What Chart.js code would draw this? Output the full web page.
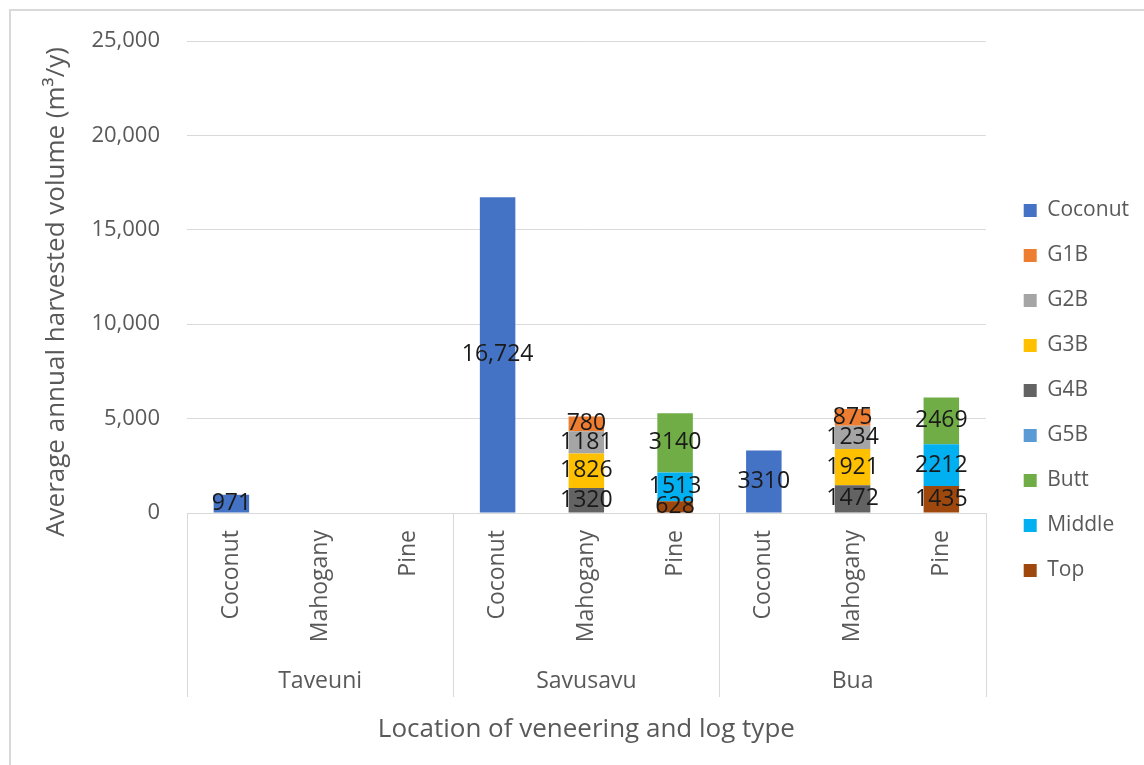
<!DOCTYPE html>
<html>
<head>
<meta charset="utf-8">
<script src="https://cdn.jsdelivr.net/npm/chart.js@4"></script>
<style>
  html, body { margin: 0; padding: 0; background: #fff; overflow: hidden; }
  #wrap { width: 1144px; height: 765px; }
</style>
</head>
<body>
<div id="wrap"><canvas id="volumeChart" width="1144" height="765"></canvas></div>
<script>
// locations and log types (two-level x axis)
const groups = ['Taveuni', 'Savusavu', 'Bua'];
const logTypes = ['Coconut', 'Mahogany', 'Pine'];

// harvested volume (m3/y) per series, one entry per location/log type
const coconut = [971, null, null, 16724, null, null, 3310, null, null];
const g1b     = [null, null, null, null, 780, null, null, 875, null];
const g2b     = [null, null, null, null, 1181, null, null, 1234, null];
const g3b     = [null, null, null, null, 1826, null, null, 1921, null];
const g4b     = [null, null, null, null, 1320, null, null, 1472, null];
const g5b     = [null, null, null, null, null, null, null, null, null];
const butt    = [null, null, null, null, null, 3140, null, null, 2469];
const middle  = [null, null, null, null, null, 1513, null, null, 2212];
const topLog  = [null, null, null, null, null, 628, null, null, 1435];

const yTicks = [0, 5000, 10000, 15000, 20000, 25000];

const labels = [];
groups.forEach(() => logTypes.forEach(t => labels.push(t)));

const FONT = "'Open Sans', sans-serif";
const GREY = '#595959';
const LINE = '#d9d9d9';

Chart.defaults.font.family = FONT;
Chart.defaults.color = GREY;

// stacked bottom to top
const series = [
  { label: 'Top',     data: topLog,  color: '#9e480e' },
  { label: 'Middle',  data: middle,  color: '#00b0f0' },
  { label: 'Butt',    data: butt,    color: '#70ad47' },
  { label: 'G5B',     data: g5b,     color: '#5b9bd5' },
  { label: 'G4B',     data: g4b,     color: '#636363' },
  { label: 'G3B',     data: g3b,     color: '#ffc000' },
  { label: 'G2B',     data: g2b,     color: '#a5a5a5' },
  { label: 'G1B',     data: g1b,     color: '#ed7d31' },
  { label: 'Coconut', data: coconut, color: '#4472c4' }
];

const fmt = v => v >= 10000 ? v.toLocaleString('en-US') : String(v);

// outer frame of the chart
const frame = {
  id: 'frame',
  beforeDraw(chart) {
    const ctx = chart.ctx;
    ctx.save();
    ctx.fillStyle = '#fff';
    ctx.fillRect(0, 0, chart.width, chart.height);
    ctx.strokeStyle = LINE;
    ctx.lineWidth = 2;
    ctx.beginPath();
    ctx.moveTo(chart.width, 10);
    ctx.lineTo(10, 10);
    ctx.lineTo(10, chart.height);
    ctx.stroke();
    ctx.restore();
  }
};

// value labels centred in each bar segment
const valueLabels = {
  id: 'valueLabels',
  afterDatasetsDraw(chart) {
    const ctx = chart.ctx;
    ctx.save();
    ctx.font = '23px ' + FONT;
    ctx.fillStyle = '#1a1a1a';
    ctx.textAlign = 'center';
    ctx.textBaseline = 'middle';
    chart.data.datasets.forEach((ds, i) => {
      const meta = chart.getDatasetMeta(i);
      meta.data.forEach((bar, j) => {
        const v = ds.data[j];
        if (v == null) return;
        ctx.fillText(fmt(v), bar.x, (bar.y + bar.base) / 2);
      });
    });
    ctx.restore();
  }
};

// location row under the rotated log-type labels, plus the value axis title
const groupAxis = {
  id: 'groupAxis',
  afterDraw(chart) {
    const { ctx, chartArea } = chart;
    const x = chart.scales.x;
    const n = logTypes.length;
    const step = x.getPixelForValue(1) - x.getPixelForValue(0);
    ctx.save();
    ctx.strokeStyle = LINE;
    ctx.lineWidth = 1;
    ctx.fillStyle = GREY;
    ctx.font = '23px ' + FONT;
    ctx.textAlign = 'center';
    ctx.textBaseline = 'middle';
    groups.forEach((g, i) => {
      const left = x.getPixelForValue(i * n) - step / 2;
      const right = x.getPixelForValue(i * n + n - 1) + step / 2;
      ctx.beginPath();
      [left, right].forEach(px => {
        const p = Math.round(px) + 0.5;
        ctx.moveTo(p, chartArea.bottom);
        ctx.lineTo(p, 697);
      });
      ctx.stroke();
      ctx.fillText(g, (left + right) / 2, 681);
    });

    ctx.font = '26px ' + FONT;
    ctx.translate(57, 292);
    ctx.rotate(-Math.PI / 2);
    ctx.fillText('Average annual harvested volume (m³/y)', 0, 0);
    ctx.restore();
  }
};

new Chart(document.getElementById('volumeChart'), {
  type: 'bar',
  data: {
    labels: labels,
    datasets: series.map(s => ({
      label: s.label,
      data: s.data,
      backgroundColor: s.color,
      borderWidth: 0,
      barPercentage: 0.4,
      categoryPercentage: 1
    }))
  },
  options: {
    responsive: false,
    animation: false,
    devicePixelRatio: 1,
    layout: { padding: { top: 41, left: 0, right: 5, bottom: 25 } },
    plugins: {
      tooltip: { enabled: false },
      legend: {
        position: 'right',
        reverse: true,
        labels: {
          boxWidth: 13,
          boxHeight: 13,
          padding: 24,
          color: GREY,
          font: { size: 21 }
        }
      }
    },
    scales: {
      x: {
        stacked: true,
        grid: { display: false },
        border: { display: true, color: LINE },
        ticks: {
          autoSkip: false,
          minRotation: 90,
          maxRotation: 90,
          padding: 9,
          color: GREY,
          font: { size: 23 }
        },
        title: {
          display: true,
          text: 'Location of veneering and log type',
          color: GREY,
          font: { size: 26 },
          padding: { top: 0, bottom: -5 }
        },
        afterFit: s => { s.height = 737 - 510; }
      },
      y: {
        stacked: true,
        min: 0,
        max: 25000,
        border: { display: false },
        grid: { color: LINE, lineWidth: 1, drawTicks: false },
        afterBuildTicks: s => { s.ticks = yTicks.map(v => ({ value: v })); },
        ticks: {
          padding: 27,
          color: GREY,
          font: { size: 22 },
          callback: v => v.toLocaleString('en-US')
        },
        afterFit: s => { s.width = 187; }
      },
      gap: {
        position: 'right',
        display: true,
        grid: { display: false },
        border: { display: false },
        ticks: { display: false },
        afterFit: s => { s.width = 14; }
      }
    }
  },
  plugins: [frame, valueLabels, groupAxis]
});
</script>
</body>
</html>
